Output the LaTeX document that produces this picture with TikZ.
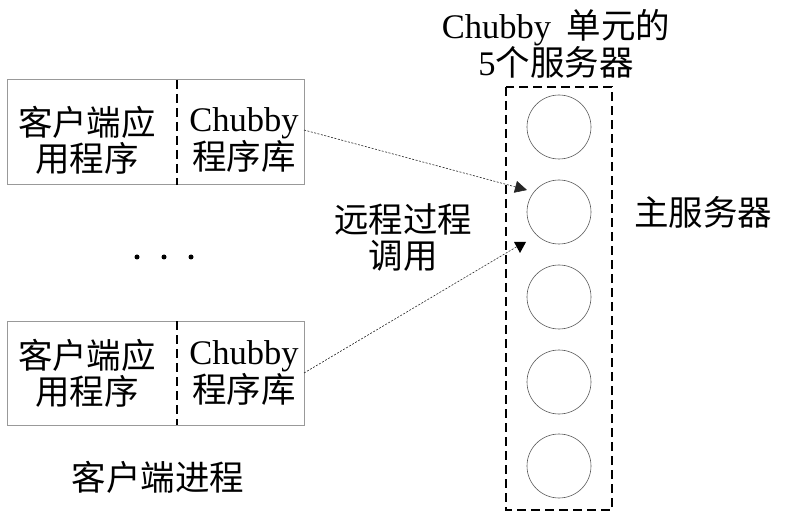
\documentclass[tikz,border=0pt]{standalone}
\usepackage{fontspec}
\setmainfont{Liberation Serif}
\newfontfamily\cjk{Noto Sans CJK SC}
\usetikzlibrary{arrows.meta}
\begin{document}
\begin{tikzpicture}[x=1pt,y=-1pt,
  txt/.style={font=\fontsize{34.5}{36}\selectfont\cjk, align=center, inner sep=0pt},
  procbox/.style={draw=gray!80, line width=1pt},
  dsh/.style={line width=2.7pt, dash pattern=on 9pt off 5pt},
  srv/.style={circle, draw=gray!70!black, line width=0.6pt, minimum size=64pt, inner sep=0pt},
  conn/.style={line width=0.6pt, dash pattern=on 2pt off 1.5pt, draw=gray!30!black},
  dotc/.style={circle, fill=black, inner sep=0pt, minimum size=5pt}]
\useasboundingbox (0,0) rectangle (793,513);
% client boxes
\draw[procbox] (7,80) rectangle (304,185);
\draw[procbox] (7,321) rectangle (304,425);
\coordinate (t1) at (177,80); \coordinate (b1) at (177,185);
\coordinate (t2) at (177,321); \coordinate (b2) at (177,425);
\draw[dsh] (t1) -- (b1);
\draw[dsh] (t2) -- (b2);
\node[txt] (app1) at (87,140) {客户端应\\用程序};
\node[txt] (lib1) at (244,140) {{\fontspec{Liberation Serif}Chubby}\\程序库};
\node[txt] (app2) at (87,373) {客户端应\\用程序};
\node[txt] (lib2) at (244,373) {{\fontspec{Liberation Serif}Chubby}\\程序库};
% dots
\node[dotc] (d1) at (137,257) {};
\node[dotc] (d2) at (164,257) {};
\node[dotc] (d3) at (191,257) {};
% cell
\draw[dsh] (506,87) rectangle (612,510);
\node[srv] (s1) at (559,127) {};
\node[srv] (s2) at (559,212) {};
\node[srv] (s3) at (559,297) {};
\node[srv] (s4) at (559,382) {};
\node[srv] (s5) at (559,466) {};
% labels
\node[txt] (cell) at (556,44) {{\fontspec{Liberation Serif}Chubby}\ \ 单元的\\{\fontspec{Liberation Serif}5}个服务器};
\node[txt] (master) at (703,212) {主服务器};
\node[txt] (rpc) at (403,238) {远程过程\\调用};
\node[txt] (proc) at (158,477) {客户端进程};
% connectors
\coordinate (a1s) at (304,130);
\coordinate (a1e) at (527,190);
\coordinate (a2s) at (304,373);
\coordinate (a2e) at (518,246);
\draw[conn, -{Triangle[length=12pt,width=12pt]}] (a1s) -- (a1e);
\draw[conn] (a2s) -- (a2e);
\fill (514,242) -- (526,242) -- (520,253) -- cycle;
\end{tikzpicture}
\end{document}
